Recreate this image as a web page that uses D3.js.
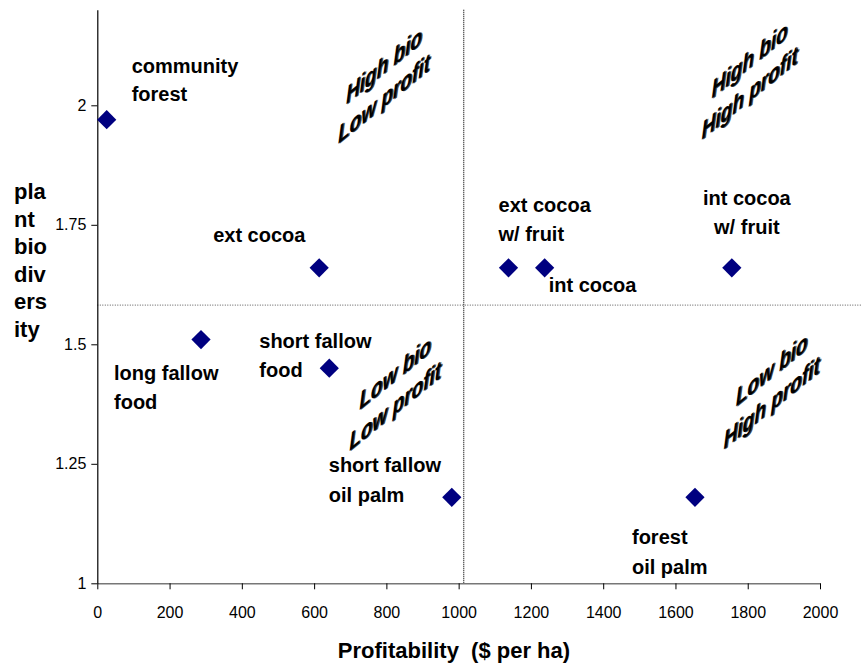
<!DOCTYPE html>
<html>
<head>
<meta charset="utf-8">
<script src="https://cdn.jsdelivr.net/npm/d3@7"></script>
<style>
  body { margin: 0; background: #fff; }
  text { font-family: "Liberation Sans", Arial, sans-serif; }
</style>
</head>
<body>
<svg id="chart"></svg>
<script>
// land-use systems: profitability vs plant biodiversity
const systems = ["community forest", "ext cocoa", "long fallow food", "short fallow food",
  "short fallow oil palm", "ext cocoa w/ fruit", "int cocoa", "int cocoa w/ fruit", "forest oil palm"];
const profit = [26, 614, 287, 642, 981, 1138, 1238, 1756, 1654];
const biodiv = [1.97, 1.66, 1.51, 1.45, 1.18, 1.66, 1.66, 1.66, 1.18];
const labelLines = [["community", "forest"], ["ext cocoa"], ["long fallow", "food"], ["short fallow", "food"],
  ["short fallow", "oil palm"], ["ext cocoa", "w/ fruit"], ["int cocoa"], ["int cocoa", "w/ fruit"], ["forest", "oil palm"]];

const xTicks = [0, 200, 400, 600, 800, 1000, 1200, 1400, 1600, 1800, 2000];
const yTicks = [1, 1.25, 1.5, 1.75, 2];

// quadrant split lines
const profitSplit = 1014;
const biodivSplit = 1.582;

const quadrantText = [["High bio", "Low profit"], ["High bio", "High profit"], ["Low bio", "Low profit"], ["Low bio", "High profit"]];
const quadrantProfit = [793, 1805, 824, 1866];
const quadrantBiodiv = [2.049, 2.061, 1.406, 1.413];

// label placement relative to each marker (px)
const labelPos = [
  { dx: 25, dy: [-47, -19], anchor: "start" },
  { dx: -106, dy: [-26], anchor: "start" },
  { dx: -87, dy: [40, 69], anchor: "start" },
  { dx: -70, dy: [-20, 9], anchor: "start" },
  { dx: -123, dy: [-25, 5], anchor: "start" },
  { dx: -10, dy: [-56, -27], anchor: "start" },
  { dx: 4, dy: [24], anchor: "start" },
  { dx: 15, dy: [-63, -34], anchor: "middle" },
  { dx: -63, dy: [47, 77], anchor: "start" }
];

const width = 865, height = 668;
const svg = d3.select("#chart").attr("width", width).attr("height", height);

const x = d3.scaleLinear().domain([0, 2000]).range([97.3, 820]);
const y = d3.scaleLinear().domain([1, 2.2]).range([583.3, 9.7]);

// dotted quadrant lines
svg.append("line")
  .attr("x1", x(0)).attr("x2", x(2116))
  .attr("y1", y(biodivSplit)).attr("y2", y(biodivSplit))
  .attr("stroke", "#555").attr("stroke-width", 1).attr("stroke-dasharray", "1,1.5");
svg.append("line")
  .attr("x1", x(profitSplit)).attr("x2", x(profitSplit))
  .attr("y1", y(2.2)).attr("y2", y(1))
  .attr("stroke", "#222").attr("stroke-width", 1.3).attr("stroke-dasharray", "1,1");

// axes
const xAxis = svg.append("g")
  .attr("transform", `translate(0,${y(1)})`)
  .call(d3.axisBottom(x).tickValues(xTicks).tickSize(6).tickSizeOuter(0).tickPadding(17).tickFormat(d => d));
xAxis.select(".domain").attr("stroke", "#777").attr("stroke-width", 1.5);
xAxis.selectAll(".tick line").attr("stroke", "#000");
xAxis.selectAll("text").attr("font-size", 16).attr("fill", "#000")
  .style("font-family", "'Liberation Sans', Arial, sans-serif");

const yAxis = svg.append("g")
  .attr("transform", `translate(${x(0)},0)`)
  .call(d3.axisLeft(y).tickValues(yTicks).tickSize(6).tickSizeOuter(0).tickPadding(5).tickFormat(d => d));
yAxis.select(".domain").attr("stroke", "#000").attr("stroke-width", 1.2);
yAxis.selectAll(".tick line").attr("stroke", "#000");
yAxis.selectAll("text").attr("font-size", 16).attr("fill", "#000")
  .style("font-family", "'Liberation Sans', Arial, sans-serif");

// axis titles
svg.append("text")
  .attr("x", 454).attr("y", 658)
  .attr("text-anchor", "middle")
  .attr("font-size", 22).attr("font-weight", "bold")
  .text("Profitability  ($ per ha)")
  .attr("xml:space", "preserve").style("white-space", "pre");

const yTitle = ["pla", "nt", "bio", "div", "ers", "ity"];
svg.append("text")
  .attr("font-size", 22).attr("font-weight", "bold")
  .selectAll("tspan").data(yTitle).join("tspan")
  .attr("x", 14).attr("y", (d, i) => 199 + i * 27.5)
  .text(d => d);

// quadrant annotations (slanted)
quadrantText.forEach((lines, i) => {
  const g = svg.append("g")
    .attr("transform", `translate(${x(quadrantProfit[i])},${y(quadrantBiodiv[i])}) skewY(-39) scale(1,1.3)`);
  [["#444", 1.2, 0.8], ["#000", 0, 0]].forEach(([col, ox, oy]) => {
    g.append("g").attr("transform", `translate(${ox},${oy})`)
      .selectAll("text").data(lines).join("text")
      .attr("x", 0).attr("y", (d, j) => j === 0 ? -6.2 : 19.2)
      .attr("text-anchor", "middle")
      .attr("font-size", 19).attr("font-weight", "bold").attr("font-style", "italic")
      .attr("fill", col)
      .text(d => d);
  });
});

// markers
const points = systems.map((s, i) => ({ name: s, profit: profit[i], biodiv: biodiv[i], lines: labelLines[i], pos: labelPos[i] }));

svg.append("g").selectAll("path").data(points).join("path")
  .attr("d", d3.symbol(d3.symbolSquare, 185))
  .attr("transform", d => `translate(${x(d.profit)},${y(d.biodiv)}) rotate(45)`)
  .attr("fill", "#000080");

// data labels
const labels = svg.append("g").selectAll("text").data(points).join("text")
  .attr("font-size", 20).attr("font-weight", "bold")
  .attr("text-anchor", d => d.pos.anchor);
labels.selectAll("tspan").data(d => d.lines.map((t, j) => ({ t, px: x(d.profit) + d.pos.dx, py: y(d.biodiv) + d.pos.dy[j] })))
  .join("tspan")
  .attr("x", d => d.px).attr("y", d => d.py)
  .text(d => d.t);
</script>
</body>
</html>
